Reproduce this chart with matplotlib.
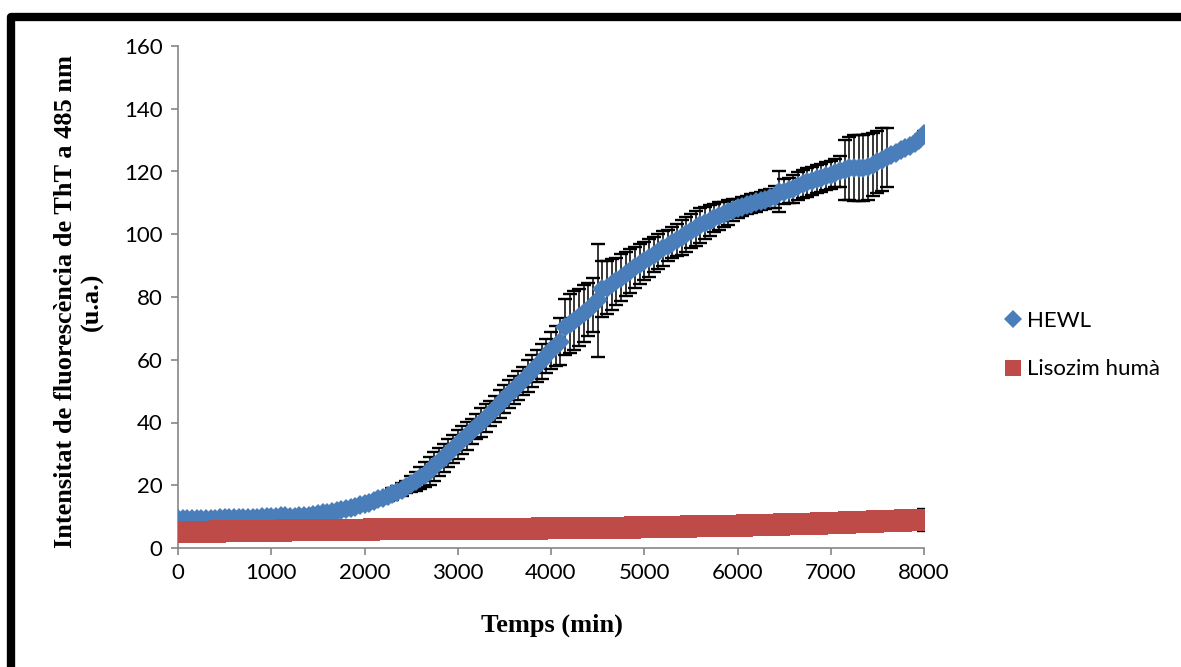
import matplotlib
matplotlib.use("Agg")
import matplotlib.pyplot as plt
from matplotlib.patches import Rectangle
from matplotlib.lines import Line2D

# time axis (min), one reading every 50 min
temps = list(range(0, 8001, 50))

# HEWL ThT fluorescence (u.a.)
hewl = [9.2, 9.3, 9.4, 9.3, 9.3, 9.4, 9.4, 9.4, 9.4, 9.5,
        9.5, 9.5, 9.6, 9.6, 9.6, 9.7, 9.7, 9.7, 9.8, 9.8,
        9.8, 10.0, 10.2, 10.1, 10.0, 10.0, 10.1, 10.2, 10.3, 10.5,
        10.8, 11.0, 11.3, 11.6, 11.9, 12.2, 12.5, 12.8, 13.2, 13.6,
        14.0, 14.5, 15.0, 15.5, 16.0, 16.6, 17.2, 17.9, 18.6, 19.4,
        20.3, 21.3, 22.3, 23.4, 24.6, 26.0, 27.4, 28.8, 30.2, 31.6,
        33.0, 34.4, 35.8, 37.2, 38.6, 40.0, 41.4, 42.8, 44.3, 46.0,
        47.6, 49.0, 50.4, 51.8, 53.2, 54.8, 56.4, 58.0, 59.5, 61.2,
        63.0, 64.4, 65.8, 70.5, 71.5, 72.5, 73.5, 74.8, 76.0, 77.5,
        79.0, 82.5, 83.0, 84.0, 85.0, 86.1, 87.2, 88.4, 89.5, 90.5,
        91.5, 92.5, 93.5, 94.5, 95.5, 96.4, 97.3, 98.2, 99.0, 100.0,
        101.0, 101.9, 102.8, 103.6, 104.3, 105.1, 105.8, 106.4, 107.0, 107.7,
        108.3, 108.8, 109.3, 109.8, 110.2, 110.6, 111.0, 111.5, 112.0, 113.6,
        113.5, 114.0, 114.5, 115.3, 116.0, 116.5, 117.0, 117.5, 118.0, 118.5,
        119.0, 119.5, 120.0, 120.5, 121.0, 121.2, 121.0, 121.2, 121.5, 122.2,
        123.0, 123.8, 124.5, 125.3, 126.0, 126.8, 127.5, 128.2, 129.0, 130.0,
        132.0]
hewl_err = [0.5, 0.5, 0.5, 0.5, 0.5, 0.5, 0.5, 0.5, 0.5, 0.5,
            0.5, 0.5, 0.5, 0.5, 0.5, 0.5, 0.5, 0.5, 0.5, 0.5,
            0.6, 0.6, 0.6, 0.6, 0.6, 0.6, 0.6, 0.6, 0.6, 0.6,
            0.7, 0.7, 0.8, 0.8, 0.9, 0.9, 1.0, 1.0, 1.0, 1.0,
            1.0, 1.0, 1.2, 1.2, 1.5, 1.5, 1.8, 1.8, 2.0, 2.0,
            2.5, 3.0, 3.5, 4.0, 4.5, 4.5, 4.5, 4.5, 4.5, 4.5,
            4.5, 4.5, 4.5, 4.0, 4.0, 4.5, 4.5, 4.0, 4.0, 4.5,
            4.5, 4.5, 4.5, 4.5, 4.5, 5.0, 5.0, 5.0, 5.5, 5.5,
            6.0, 6.5, 7.5, 9.0, 9.5, 9.5, 9.0, 9.0, 8.5, 8.5,
            18.0, 9.0, 8.5, 8.0, 7.5, 7.5, 7.0, 7.0, 6.5, 6.5,
            6.0, 6.0, 5.5, 5.5, 5.5, 5.0, 5.0, 5.0, 5.5, 5.5,
            5.5, 5.5, 5.5, 5.0, 5.0, 4.5, 4.5, 4.0, 4.0, 3.5,
            3.0, 3.0, 3.0, 3.0, 3.0, 3.0, 3.0, 3.0, 3.5, 6.5,
            4.0, 4.0, 4.5, 4.5, 4.5, 4.5, 4.5, 4.5, 4.5, 4.5,
            4.5, 4.5, 5.0, 9.5, 10.0, 10.5, 10.5, 10.5, 10.5, 10.0,
            10.0, 10.0, 9.5, 1.0, 1.0, 1.0, 1.0, 1.0, 1.0, 1.0,
            1.0]

# Lisozim humà ThT fluorescence (u.a.)
lisozim = [5.0, 5.0, 5.1, 5.1, 5.1, 5.2, 5.2, 5.2, 5.2, 5.3,
           5.3, 5.3, 5.3, 5.4, 5.4, 5.4, 5.4, 5.4, 5.5, 5.5,
           5.5, 5.5, 5.5, 5.6, 5.6, 5.6, 5.6, 5.6, 5.6, 5.7,
           5.7, 5.7, 5.7, 5.7, 5.8, 5.8, 5.8, 5.8, 5.8, 5.8,
           5.8, 5.8, 5.9, 5.9, 5.9, 5.9, 5.9, 5.9, 5.9, 5.9,
           6.0, 6.0, 6.0, 6.0, 6.0, 6.0, 6.0, 6.0, 6.0, 6.0,
           6.0, 6.0, 6.1, 6.1, 6.1, 6.1, 6.1, 6.1, 6.1, 6.1,
           6.2, 6.2, 6.2, 6.2, 6.2, 6.2, 6.2, 6.2, 6.3, 6.3,
           6.3, 6.3, 6.3, 6.3, 6.3, 6.3, 6.4, 6.4, 6.4, 6.4,
           6.4, 6.4, 6.5, 6.5, 6.5, 6.5, 6.5, 6.5, 6.6, 6.6,
           6.6, 6.6, 6.7, 6.7, 6.7, 6.7, 6.8, 6.8, 6.8, 6.8,
           6.9, 6.9, 6.9, 6.9, 7.0, 7.0, 7.0, 7.0, 7.1, 7.1,
           7.1, 7.1, 7.2, 7.2, 7.2, 7.2, 7.3, 7.3, 7.4, 7.4,
           7.5, 7.5, 7.6, 7.6, 7.7, 7.7, 7.8, 7.8, 7.9, 7.9,
           8.0, 8.0, 8.1, 8.1, 8.2, 8.2, 8.3, 8.3, 8.4, 8.4,
           8.5, 8.5, 8.6, 8.6, 8.7, 8.7, 8.8, 8.8, 8.9, 8.9,
           9.0]
lisozim_err = [0.3] * 160 + [3.5]

xticks = [0, 1000, 2000, 3000, 4000, 5000, 6000, 7000, 8000]
yticks = [0, 20, 40, 60, 80, 100, 120, 140, 160]

blue = "#4a7ebb"
red = "#be4b48"
grey = "#868686"

fig = plt.figure(figsize=(11.81, 6.67), dpi=100)
ax = fig.add_axes([178 / 1181, 1 - 548 / 667, (924 - 178) / 1181, (548 - 46) / 667])

# error bars sit under the markers
ax.errorbar(temps, hewl, yerr=hewl_err, fmt="none", ecolor="black",
            elinewidth=1.1, capsize=5, capthick=1.7, zorder=2)
ax.errorbar(temps, lisozim, yerr=lisozim_err, fmt="none", ecolor="black",
            elinewidth=1.1, capsize=5, capthick=1.7, zorder=2)

ax.plot(temps, hewl, "D", color=blue, markersize=10.5, markeredgewidth=0,
        zorder=3)
ax.plot(temps, lisozim, "s", color=red, markersize=16, markeredgewidth=0,
        zorder=3)

ax.set_xlim(0, 8000)
ax.set_ylim(0, 160)
ax.set_xticks(xticks)
ax.set_yticks(yticks)

for s in ["top", "right"]:
    ax.spines[s].set_visible(False)
for s in ["left", "bottom"]:
    ax.spines[s].set_color(grey)
    ax.spines[s].set_linewidth(1.2)
ax.tick_params(direction="out", length=5, width=1.2, color=grey,
               labelsize=16, pad=6)
for lab in ax.get_xticklabels() + ax.get_yticklabels():
    lab.set_fontfamily("Lato")

fig.text(552 / 1181, 1 - 625 / 667, "Temps (min)", ha="center", va="center",
         fontsize=19, fontweight="bold", family="Liberation Serif")
fig.text(79 / 1181, 1 - 302 / 667,
         "Intensitat de fluorescència de ThT a 485 nm\n(u.a.)",
         rotation=90, ha="center", va="center", multialignment="center",
         fontsize=19, fontweight="bold", family="Liberation Serif",
         linespacing=1.15)

handles = [Line2D([], [], ls="none", marker="D", color=blue, markersize=9,
                  markeredgewidth=0),
           Line2D([], [], ls="none", marker="s", color=red, markersize=12,
                  markeredgewidth=0)]
fig.legend(handles, ["HEWL", "Lisozim humà"], loc="center left",
           bbox_to_anchor=(985 / 1181, 1 - 345 / 667), frameon=False,
           prop={"family": "Lato", "size": 16}, handlelength=0.7,
           handletextpad=0.3, labelspacing=1.3)

# thick black frame around the figure (cut off at right and bottom)
frame = Rectangle((11 / 1181, -0.2), 2.0, 1.2 - 16.5 / 667,
                  transform=fig.transFigure, fill=False, edgecolor="black",
                  linewidth=6, joinstyle="round")
fig.patches.append(frame)

fig.savefig("out.png", dpi=100)
